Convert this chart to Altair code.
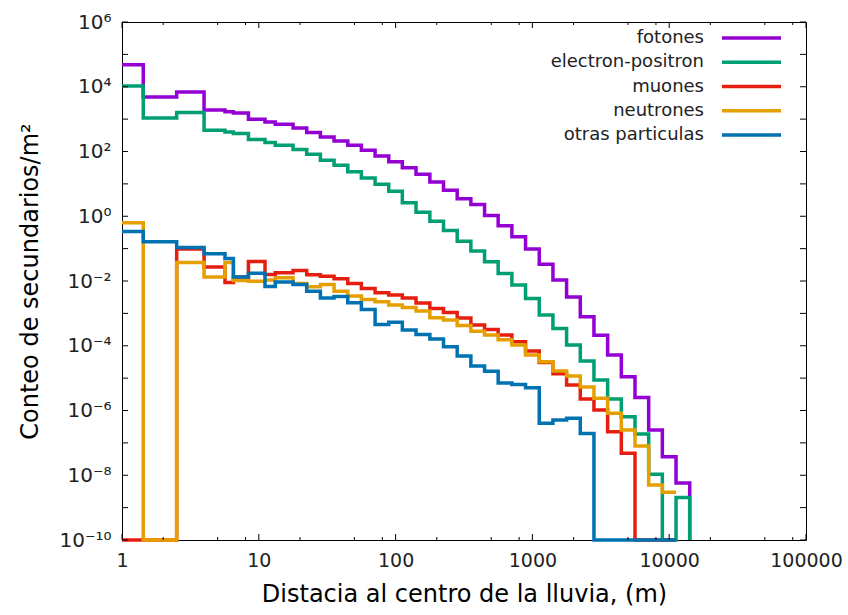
import altair as alt
import pandas as pd

# ---- data (counts per m^2 in log-spaced distance bins) ----
edges = [1, 1.43, 2.51, 3.98, 5.66, 6.52, 8.4, 11.1, 13.2, 17.8, 22.4, 28.2, 35.5, 44.7,
         56.2, 70.8, 89.1, 112, 141, 178, 224, 282, 355, 447, 562, 708, 891, 1122, 1413,
         1778, 2239, 2818, 3548, 4467, 5623, 7079, 8913, 11220, 14125]

fotones = [4.8e4, 4.8e3, 6.9e3, 1.9e3, 1.7e3, 1.55e3, 990, 820, 700, 535, 386, 282, 212,
           156, 110, 72, 48, 31.6, 19.9, 11.5, 6.4, 3.5, 2.3, 1.06, 0.51, 0.234, 0.097,
           0.033, 0.0107, 3.2e-3, 7.9e-4, 2.1e-4, 5.2e-5, 1.1e-5, 2.5e-6, 2.5e-7, 3.7e-8,
           5.8e-9]
electron_positron = [1.06e4, 1.09e3, 1.6e3, 454, 403, 360, 235, 190, 156, 115, 82.6, 53.9,
                     37.8, 23.5, 15.3, 9.8, 5.96, 2.59, 1.34, 0.706, 0.365, 0.170, 0.0838,
                     0.0392, 0.0172, 7.46e-3, 2.9e-3, 8.87e-4, 3.44e-4, 1.05e-4, 3.37e-5,
                     8.73e-6, 2.26e-6, 6.44e-7, 1.88e-7, 1.07e-8, 0, 2.04e-9]
muones = [0, 0, 0.0966, 0.0269, 9.06e-3, 0.0132, 0.0403, 0.0158, 0.0179, 0.0212, 0.0155,
          0.0139, 0.0117, 8.43e-3, 5.91e-3, 4.32e-3, 3.67e-3, 2.97e-3, 2.08e-3, 1.41e-3,
          1.06e-3, 7.16e-4, 4.35e-4, 3.16e-4, 2.14e-4, 1.33e-4, 6.86e-5, 3.03e-5, 1.37e-5,
          6.12e-6, 2.26e-6, 1.04e-6, 2.22e-7, 4.78e-8, 0, 0, 0]
neutrones = [0.625, 0, 0.037, 0.0132, 0.037, 0.0103, 9.9e-3, 0.0107, 0.0127, 8.43e-3,
             6.62e-3, 7.74e-3, 4.81e-3, 3.42e-3, 2.7e-3, 2.28e-3, 1.8e-3, 1.51e-3, 1.18e-3,
             7.31e-4, 6.21e-4, 4.2e-4, 2.78e-4, 2.14e-4, 1.53e-4, 1.05e-4, 5.16e-5, 3.21e-5,
             1.66e-5, 1.16e-5, 5.31e-6, 2.38e-6, 8.2e-7, 2.5e-7, 8.0e-8, 5.0e-9, 3.0e-9]
otras = [0.34, 0.164, 0.109, 0.0692, 0.0499, 0.0132, 0.0175, 6.81e-3, 9.25e-3, 7.74e-3,
         4.81e-3, 3.01e-3, 3.3e-3, 2.12e-3, 1.31e-3, 4.51e-4, 5.31e-4, 3.05e-4, 2.22e-4,
         1.61e-4, 9.3e-5, 4.81e-5, 2.36e-5, 1.63e-5, 7.06e-6, 6.34e-6, 5.02e-6, 4.03e-7,
         5.09e-7, 5.74e-7, 1.95e-7, 0, 0, 0, 0, 0, 0]

series_names = ["fotones", "electron-positron", "muones", "neutrones", "otras particulas"]
series_values = [fotones, electron_positron, muones, neutrones, otras]
series_colors = ["#9400d3", "#009e73", "#e51e10", "#e69f00", "#0072b2"]
drop_at_end = [True, True, False, False, False]

x_major = [1, 10, 100, 1000, 10000, 100000]
x_minor_mult = [2, 5, 8]
y_major_exp = list(range(-10, 7))
y_label_exp = [6, 4, 2, 0, -2, -4, -6, -8, -10]
sup = {"0": "⁰", "1": "¹", "2": "²", "4": "⁴", "6": "⁶", "8": "⁸", "-": "⁻"}
y_label_text = ["10" + "".join(sup[c] for c in str(e)) for e in y_label_exp]

# ---- build step-line table ----
rows = []
for name, vals, drop in zip(series_names, series_values, drop_at_end):
    k = 0
    for i, v in enumerate(vals):
        rows.append({"serie": name, "x": edges[i], "y": v, "k": k}); k += 1
        rows.append({"serie": name, "x": edges[i + 1], "y": v, "k": k}); k += 1
    if drop:
        rows.append({"serie": name, "x": edges[len(vals)], "y": 0, "k": k})
df = pd.DataFrame(rows)
legend_df = pd.DataFrame({"serie": series_names, "i": list(range(len(series_names)))})

W, H = 684, 518
FONT = "DejaVu Sans"
xscale = alt.Scale(type="log", domain=[1, 100000], nice=False)
yscale = alt.Scale(type="log", domain=[1e-10, 1e6], nice=False)
cscale = alt.Scale(domain=series_names, range=series_colors)
legend_row = alt.Scale(domain=[0, 4], range=[16, 113])

label_expr = "[" + ",".join("'%s'" % t for t in y_label_text) + "][round((6 - log(datum.value)/LN10)/2)]"

lines = alt.Chart(df).transform_calculate(
    yp="max(datum.y, 1e-10)"
).mark_line(strokeWidth=3.5, strokeJoin="miter", strokeCap="butt").encode(
    x=alt.X("x:Q", scale=xscale,
            axis=alt.Axis(values=x_major, format="d", ticks=False, domain=False, grid=False,
                          labelFlush=False, labelFontSize=19, labelPadding=11, labelColor="#222",
                          title="Distacia al centro de la lluvia, (m)", titleFontSize=24,
                          titleFontWeight="normal", titlePadding=12, titleColor="black")),
    y=alt.Y("yp:Q", scale=yscale,
            axis=alt.Axis(values=[10.0 ** e for e in y_label_exp], labelExpr=label_expr,
                          ticks=False, domain=False, grid=False, labelFontSize=20,
                          labelPadding=11, labelColor="#222",
                          title="Conteo de secundarios/m²", titleFontSize=24,
                          titleFontWeight="normal", titlePadding=16, titleColor="black")),
    color=alt.Color("serie:N", scale=cscale, legend=None),
    order="k:Q",
)

leg_text = alt.Chart(legend_df).mark_text(
    align="right", baseline="middle", fontSize=18, font=FONT, color="#222"
).encode(
    text="serie:N", x=alt.value(582),
    y=alt.Y("i:Q", scale=legend_row, axis=None),
)
leg_line = alt.Chart(legend_df).mark_rule(strokeWidth=3.5).encode(
    x=alt.value(600), x2=alt.value(659),
    y=alt.Y("i:Q", scale=legend_row, axis=None),
    color=alt.Color("serie:N", scale=cscale, legend=None),
)

xmaj = pd.DataFrame({"v": x_major})
xmin = pd.DataFrame({"v": [m * d for d in x_major[:-1] for m in x_minor_mult]})
ymaj = pd.DataFrame({"v": [10.0 ** e for e in y_major_exp]})

def xticks(data, length):
    b = alt.Chart(data).mark_rule(color="black", strokeWidth=1)
    bottom = b.encode(x=alt.X("v:Q", scale=xscale, axis=None), y=alt.value(H), y2=alt.value(H - length))
    top = b.encode(x=alt.X("v:Q", scale=xscale, axis=None), y=alt.value(0), y2=alt.value(length))
    return bottom + top

yb = alt.Chart(ymaj).mark_rule(color="black", strokeWidth=1)
yticks = yb.encode(y=alt.Y("v:Q", scale=yscale, axis=None), x=alt.value(0), x2=alt.value(6)) + \
         yb.encode(y=alt.Y("v:Q", scale=yscale, axis=None), x=alt.value(W), x2=alt.value(W - 6))

chart = alt.layer(
    lines, xticks(xmaj, 6), xticks(xmin, 3), yticks, leg_text, leg_line
).resolve_scale(
    x="independent", y="independent"
).properties(
    width=W, height=H,
    autosize=alt.AutoSizeParams(type="none"),
    padding={"left": 122, "top": 22, "right": 42, "bottom": 75},
    background="white",
).configure_view(
    stroke="black", strokeWidth=1
).configure_axis(
    labelFont=FONT, titleFont=FONT
)

chart.save("out.html", embed_options={"renderer": "svg", "actions": False})
